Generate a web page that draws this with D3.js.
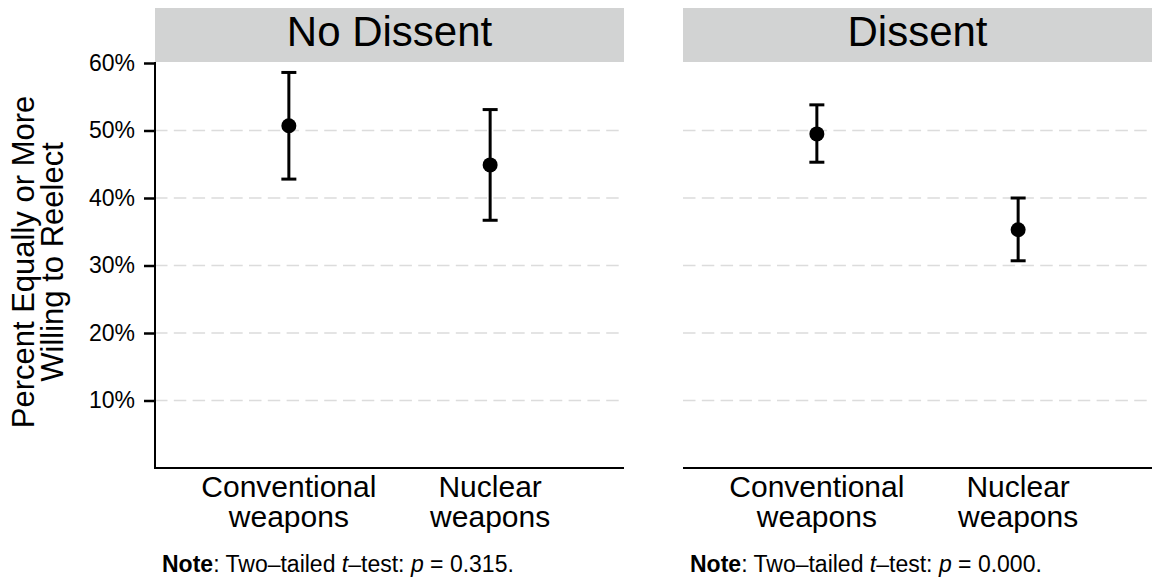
<!DOCTYPE html>
<html>
<head>
<meta charset="utf-8">
<script src="https://cdn.jsdelivr.net/npm/d3@7"></script>
<style>
  html, body { margin: 0; padding: 0; background: #fff; }
  svg { display: block; font-family: "Liberation Sans", Arial, Helvetica, sans-serif; }
</style>
</head>
<body>
<svg id="chart" width="1154" height="580"></svg>
<script>
// Facets, categories and estimates (share willing to reelect, with 95% CIs)
const panels = ["No Dissent", "Dissent"];
const categories = ["Conventional weapons", "Nuclear weapons"];
const categoryLines = [["Conventional", "weapons"], ["Nuclear", "weapons"]];
const estimates = [[0.507, 0.449], [0.495, 0.353]];
const lowerCI = [[0.428, 0.367], [0.453, 0.307]];
const upperCI = [[0.586, 0.531], [0.538, 0.400]];
const pValues = ["0.315", "0.000"];
const yTicks = [0.1, 0.2, 0.3, 0.4, 0.5, 0.6];

const svg = d3.select("#chart");

const panelLeft = [155, 683];
const panelWidth = 469;
const plotTop = 63, plotBottom = 468;
const stripTop = 8, stripBottom = 62;

const y = d3.scaleLinear().domain([0, 0.6]).range([plotBottom, plotTop]);
const fmt = d3.format(".0%");

panels.forEach((name, p) => {
  const x0 = panelLeft[p];
  const x = d3.scalePoint().domain(categories).range([x0, x0 + panelWidth]).padding(0.665);
  const g = svg.append("g");

  // strip header
  g.append("rect")
    .attr("x", x0).attr("y", stripTop)
    .attr("width", panelWidth).attr("height", stripBottom - stripTop)
    .attr("fill", "#d2d3d3");
  g.append("text")
    .attr("x", x0 + panelWidth / 2).attr("y", stripTop + 38)
    .attr("text-anchor", "middle")
    .attr("font-size", 42).attr("fill", "#000")
    .text(name);

  // dashed horizontal grid
  g.append("g").selectAll("line").data(yTicks.slice(0, -1)).join("line")
    .attr("x1", x0).attr("x2", x0 + panelWidth)
    .attr("y1", d => y(d)).attr("y2", d => y(d))
    .attr("stroke", "#dcdcdc").attr("stroke-width", 1.5)
    .attr("stroke-dasharray", "12.5,6.3");

  // x axis line and category labels
  g.append("line")
    .attr("x1", x0).attr("x2", x0 + panelWidth)
    .attr("y1", plotBottom).attr("y2", plotBottom)
    .attr("stroke", "#000").attr("stroke-width", 2);

  categories.forEach((c, i) => {
    const t = g.append("text")
      .attr("text-anchor", "middle")
      .attr("font-size", 30).attr("fill", "#000");
    categoryLines[i].forEach((line, k) => {
      t.append("tspan").attr("x", x(c)).attr("y", 497 + k * 30).text(line);
    });
  });

  // y axis on the first facet only
  if (p === 0) {
    const axis = d3.axisLeft(y).tickValues(yTicks).tickFormat(fmt).tickSize(11).tickPadding(9);
    const ag = g.append("g").attr("transform", `translate(${x0},0)`).call(axis);
    ag.select(".domain").remove();
    ag.selectAll(".tick line").attr("stroke", "#000").attr("stroke-width", 2.5);
    ag.selectAll(".tick text")
      .attr("font-size", 23).attr("fill", "#000")
      .attr("font-family", "'Liberation Sans', Arial, sans-serif");
    ag.append("line")
      .attr("x1", 0).attr("x2", 0)
      .attr("y1", y(0) + 1).attr("y2", y(0.6) - 1)
      .attr("stroke", "#000").attr("stroke-width", 2);
  }

  // error bars with caps and point estimates
  const capHalf = 7.5;
  categories.forEach((c, i) => {
    const cx = x(c);
    const lo = y(lowerCI[p][i]), hi = y(upperCI[p][i]);
    g.append("line").attr("x1", cx).attr("x2", cx).attr("y1", lo).attr("y2", hi)
      .attr("stroke", "#000").attr("stroke-width", 3);
    [lo, hi].forEach(v => {
      g.append("line").attr("x1", cx - capHalf).attr("x2", cx + capHalf)
        .attr("y1", v).attr("y2", v)
        .attr("stroke", "#000").attr("stroke-width", 3);
    });
    g.append("circle").attr("cx", cx).attr("cy", y(estimates[p][i])).attr("r", 7.5)
      .attr("fill", "#000");
  });

  // test note under each facet
  const note = g.append("text")
    .attr("x", x0 + 7).attr("y", 572)
    .attr("font-size", 23).attr("fill", "#000");
  note.append("tspan").attr("font-weight", "bold").text("Note");
  note.append("tspan").text(": Two\u2013tailed ");
  note.append("tspan").attr("font-style", "italic").text("t");
  note.append("tspan").text("\u2013test: ");
  note.append("tspan").attr("font-style", "italic").text("p");
  note.append("tspan").text(" = " + pValues[p] + ".");
});

// y axis title
const yTitle = svg.append("text")
  .attr("transform", "translate(0,262) rotate(-90)")
  .attr("text-anchor", "middle")
  .attr("font-size", 31).attr("fill", "#000");
yTitle.append("tspan").attr("x", 0).attr("y", 34).text("Percent Equally or More");
yTitle.append("tspan").attr("x", 0).attr("y", 63).text("Willing to Reelect");
</script>
</body>
</html>
